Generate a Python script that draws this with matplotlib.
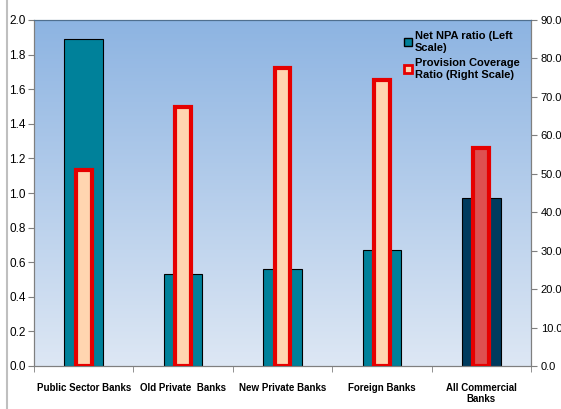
import numpy as np
from matplotlib import pyplot as plt
from matplotlib.lines import Line2D

banks = ['Public Sector Banks', 'Old Private  Banks', 'New Private Banks',
         'Foreign Banks', 'All Commercial\nBanks']
net_npa = [1.89, 0.53, 0.56, 0.67, 0.97]
pcr = [51.0, 67.5, 77.6, 74.3, 56.6]

npa_colors = ['#00819A', '#00819A', '#00819A', '#00819A', '#003B5E']
pcr_colors = ['#FFD5B0', '#FFD5B0', '#FFD5B0', '#FFD5B0', '#DE5050']

plt.rcParams['font.family'] = ['Liberation Sans', 'DejaVu Sans']

fig = plt.figure(figsize=(5.61, 4.09), dpi=100)
ax = fig.add_axes([34 / 561, 43 / 409, 497 / 561, 346 / 409])
x = np.arange(len(banks))

# gradient background
grad = np.linspace(0, 1, 256).reshape(-1, 1)
top = np.array([0x8D, 0xB4, 0xE2]) / 255
bot = np.array([0xDD, 0xE7, 0xF4]) / 255
img = top[None, None, :] * (1 - grad[:, :, None]) + bot[None, None, :] * grad[:, :, None]
ax.imshow(img, extent=[0, 1, 0, 1], transform=ax.transAxes, aspect='auto', zorder=0)

ax.bar(x, net_npa, width=0.39, color=npa_colors, edgecolor='black', linewidth=0.8, zorder=2)
ax.set_xlim(-0.5, len(banks) - 0.5)
ax.set_ylim(0, 2.0)
ax.set_yticks(np.arange(0, 2.01, 0.2))
ax.set_yticklabels(['%.1f' % v for v in np.arange(0, 2.01, 0.2)], fontsize=8.5)
ax.set_xticks(x)
ax.set_xticklabels(banks, fontsize=7, fontweight='bold')
ax.set_xticks(np.arange(-0.5, len(banks), 1), minor=True)
ax.tick_params(axis='x', which='major', length=0, pad=12)
ax.tick_params(axis='x', which='minor', length=4, direction='out', color='#7F7F7F')
ax.tick_params(axis='y', length=4, direction='out', color='#7F7F7F', pad=2)

ax2 = ax.twinx()
ax2.bar(x, pcr, width=0.16, color=pcr_colors, edgecolor='#E60000', linewidth=3, zorder=3)
ax2.set_ylim(0, 90)
ax2.set_yticks(np.arange(0, 91, 10))
ax2.set_yticklabels(['%.1f' % v for v in np.arange(0, 91, 10)], fontsize=8)
ax2.tick_params(axis='y', length=4, direction='out', color='#7F7F7F', pad=3)

for a in (ax, ax2):
    for s in a.spines.values():
        s.set_color('#7F7F7F')
ax.spines['top'].set_color('#4F6F8F')
ax2.spines['top'].set_color('#4F6F8F')

handles = [
    Line2D([], [], marker='s', linestyle='none', markersize=6,
           markerfacecolor='#00819A', markeredgecolor='black'),
    Line2D([], [], marker='s', linestyle='none', markersize=6,
           markerfacecolor='#FFD5B0', markeredgecolor='#E60000', markeredgewidth=2),
]
ax2.legend(handles, ['Net NPA ratio (Left\nScale)', 'Provision Coverage\nRatio (Right Scale)'],
           loc='upper right', frameon=False, handlelength=0.6, handletextpad=0.3,
           prop={'size': 8, 'weight': 'bold'}, borderaxespad=0.6, labelspacing=0.5)

fig.add_artist(Line2D([7 / 561, 7 / 561], [0, 1], color='#BFBFBF', linewidth=1.5))

plt.savefig('out.png', dpi=100)
